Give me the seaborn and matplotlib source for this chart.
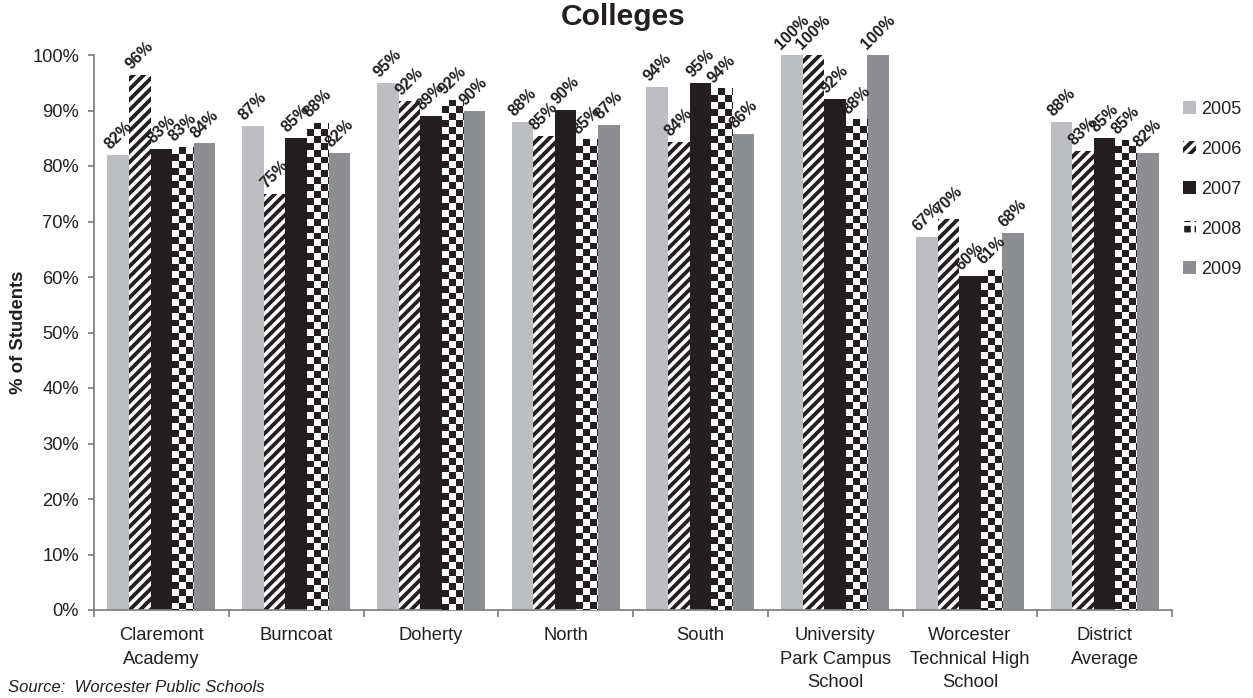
import numpy as np
import pandas as pd
import matplotlib
matplotlib.use("Agg")
import matplotlib.pyplot as plt
import seaborn as sns
from matplotlib.patches import Patch

schools = ["Claremont\nAcademy", "Burncoat", "Doherty", "North", "South",
           "University\nPark Campus\nSchool", "Worcester\nTechnical High\nSchool",
           "District\nAverage"]
years = ["2005", "2006", "2007", "2008", "2009"]
v2005 = [82.0, 87.2, 95.0, 87.9, 94.2, 100.0, 67.2, 87.9]
v2006 = [96.4, 75.0, 91.8, 85.4, 84.3, 100.0, 70.4, 82.7]
v2007 = [83.1, 85.1, 89.0, 90.1, 95.0, 92.1, 60.2, 85.1]
v2008 = [83.4, 87.8, 91.9, 84.8, 94.0, 88.4, 61.3, 84.7]
v2009 = [84.1, 82.4, 89.9, 87.4, 85.8, 100.0, 67.9, 82.4]
yticks = [0, 10, 20, 30, 40, 50, 60, 70, 80, 90, 100]
title = "Colleges"
ylabel = "% of Students"
source = "Source:  Worcester Public Schools"

series = [v2005, v2006, v2007, v2008, v2009]
df = pd.DataFrame({
    "school": [s for _ in years for s in schools],
    "year": [y for y in years for _ in schools],
    "value": [v for vals in series for v in vals],
})

sns.set_style("white")
plt.rcParams["font.family"] = ["Liberation Sans", "DejaVu Sans"]
plt.rcParams["hatch.linewidth"] = 2.2

INK = "#231F20"
GRAY_AX = "#808080"
palette = {"2005": "#BDBEC2", "2006": "#FFFFFF", "2007": INK,
           "2008": "#FFFFFF", "2009": "#8D8E92"}

DPI = 125
fig = plt.figure(figsize=(1253 / DPI, 698 / DPI), dpi=DPI)
ax = fig.add_axes([94 / 1253, 1 - 610 / 698, (1172 - 94) / 1253, (610 - 55) / 698])

sns.barplot(data=df, x="school", y="value", hue="year", order=schools,
            hue_order=years, palette=palette, saturation=1, width=0.8,
            errorbar=None, linewidth=0, legend=False, ax=ax)

ax.set_xlim(-0.5, len(schools) - 0.5)
ax.set_ylim(0, 100)

# 2006: diagonal stripes
for p in ax.containers[1]:
    p.set_hatch("////")
    p.set_edgecolor(INK)
    p.set_linewidth(0)

# 2008: checkerboard clipped to the bar
fig.canvas.draw()
sq_px = 6.9
for p in ax.containers[3]:
    x0, w, h = p.get_x(), p.get_width(), p.get_height()
    (dx0, dy0) = ax.transData.transform((x0, 0))
    (dx1, dy1) = ax.transData.transform((x0 + w, h))
    nx = int(np.ceil((dx1 - dx0) / sq_px))
    ny = int(np.ceil((dy1 - dy0) / sq_px))
    ii, jj = np.indices((ny, nx))
    board = ((ii + jj) % 2).astype(float)
    x_ext = x0 + nx * sq_px * w / (dx1 - dx0)
    y_ext = ny * sq_px * h / (dy1 - dy0)
    im = ax.imshow(board, cmap=matplotlib.colors.ListedColormap(["#FFFFFF", INK]),
                   extent=(x0, x_ext, h - y_ext, h),
                   origin="upper", interpolation="nearest", aspect="auto", zorder=3)
    im.set_clip_path(p)

ax.set_xlim(-0.5, len(schools) - 0.5)
ax.set_ylim(0, 100)

# data labels
for cont in ax.containers:
    for p in cont:
        h = p.get_height()
        ax.annotate(f"{h:.0f}%", (p.get_x() + p.get_width() / 2, h),
                    xytext=(0, 1.5), textcoords="offset points", rotation=45,
                    ha="center", va="bottom", fontweight="bold", fontsize=9.3,
                    color=INK, zorder=5, annotation_clip=False)

# axes styling
for s in ["top", "right"]:
    ax.spines[s].set_visible(False)
for s in ["left", "bottom"]:
    ax.spines[s].set_color(GRAY_AX)
    ax.spines[s].set_linewidth(1.0)

ax.set_yticks(yticks)
ax.set_yticklabels([f"{t}%" for t in yticks])
ax.tick_params(axis="y", which="major", left=True, length=3.6, width=1,
               color=GRAY_AX, pad=5, labelsize=10.6, labelcolor=INK)

ax.set_xticks(np.arange(-0.5, len(schools), 1.0))
ax.set_xticklabels([])
ax.set_xticks(np.arange(len(schools)), minor=True)
ax.set_xticklabels(schools, minor=True)
ax.tick_params(axis="x", which="major", bottom=True, length=4, width=1,
               color=GRAY_AX)
ax.tick_params(axis="x", which="minor", bottom=True, length=0, pad=9.8,
               labelsize=10.6, labelcolor=INK)
for lab in ax.get_xticklabels(minor=True):
    lab.set_linespacing(1.5)

ax.set_xlabel("")
ax.set_ylabel(ylabel, fontweight="bold", fontsize=10.7, color=INK, labelpad=3)

# legend
handles = []
for y in years:
    if y == "2006":
        handles.append(Patch(facecolor="#FFFFFF", edgecolor=INK, hatch="////", linewidth=0))
    elif y == "2008":
        handles.append(Patch(facecolor=INK, edgecolor="#FFFFFF", hatch="++", linewidth=0))
    else:
        handles.append(Patch(facecolor=palette[y], linewidth=0))
fig.legend(handles, years, loc="upper left",
           bbox_to_anchor=(1183 / 1253, 1 - 101 / 698), frameon=False,
           fontsize=10.4, handlelength=0.7, handleheight=0.7, handletextpad=0.3,
           labelspacing=1.27, borderpad=0, borderaxespad=0, labelcolor=INK)

fig.text(623 / 1253, 1 - 25 / 698, title, ha="center", va="baseline",
         fontweight="bold", fontsize=17.3, color=INK)
fig.text(8 / 1253, 1 - 692 / 698, source, ha="left", va="baseline",
         fontstyle="italic", fontsize=9.6, color=INK)

fig.savefig("out.png", dpi=DPI)
